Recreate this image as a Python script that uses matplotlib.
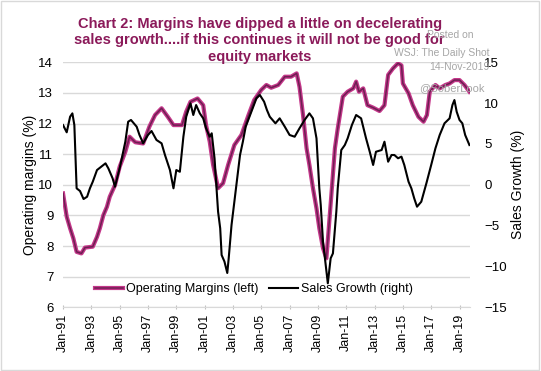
import matplotlib
matplotlib.use("Agg")
import matplotlib.pyplot as plt
from matplotlib.patches import Rectangle
from matplotlib.lines import Line2D

plt.rcParams["font.family"] = ["Liberation Sans", "DejaVu Sans"]

# --- datos (año decimal, valor) ---
margin_years = [1991.0, 1991.26, 1991.5, 1991.73, 1991.96, 1992.3, 1992.55, 1993.1, 1993.4,
                1993.6, 1993.85, 1994.1, 1994.3, 1994.67, 1995.0, 1995.4, 1995.7, 1996.1,
                1996.66, 1997.1, 1997.5, 1997.96, 1998.4, 1998.8, 1999.4, 1999.7, 2000.0,
                2000.5, 2000.9, 2001.1, 2001.36, 2001.6, 2001.95, 2002.3, 2002.66, 2003.1,
                2003.6, 2004.1, 2004.5, 2005.0, 2005.36, 2005.7, 2006.2, 2006.66, 2007.1,
                2007.5, 2007.7, 2007.95, 2008.2, 2008.4, 2008.65, 2008.9, 2009.1, 2009.36,
                2009.6, 2009.95, 2010.2, 2010.4, 2010.76, 2011.1, 2011.5, 2011.7, 2011.9,
                2012.2, 2012.5, 2012.9, 2013.35, 2013.7, 2013.96, 2014.3, 2014.66, 2014.9,
                2015.0, 2015.4, 2015.7, 2016.1, 2016.46, 2016.7, 2016.9, 2017.3, 2017.6,
                2018.0, 2018.3, 2018.64, 2019.0, 2019.35, 2019.7]
margins = [9.72, 8.96, 8.58, 8.25, 7.81, 7.76, 7.95, 7.98, 8.30,
           8.58, 9.01, 9.28, 9.61, 9.99, 10.59, 11.08, 11.57, 11.39,
           11.35, 11.90, 12.28, 12.50, 12.22, 11.95, 11.95, 12.39, 12.71,
           12.82, 12.60, 11.95, 11.41, 10.65, 9.89, 10.05, 10.65, 11.30,
           11.63, 12.28, 12.77, 13.10, 13.26, 13.17, 13.26, 13.53, 13.53,
           13.64, 13.20, 12.28, 11.19, 10.65, 9.89, 9.23, 8.58, 7.93,
           7.60, 9.67, 11.19, 11.84, 12.88, 13.04, 13.15, 13.37, 13.04,
           13.15, 12.60, 12.52, 12.41, 12.60, 13.59, 13.80, 13.97, 13.90,
           13.31, 12.99, 12.60, 12.22, 12.06, 12.28, 13.04, 13.26, 13.15,
           13.26, 13.31, 13.42, 13.42, 13.26, 13.04]

sales_years = [1991.0, 1991.26, 1991.5, 1991.66, 1991.8, 1991.96, 1992.2, 1992.45, 1992.7,
               1992.9, 1993.1, 1993.4, 1993.7, 1994.0, 1994.2, 1994.5, 1994.67, 1995.0,
               1995.4, 1995.6, 1995.8, 1996.2, 1996.4, 1996.66, 1997.0, 1997.25, 1997.6,
               1997.96, 1998.2, 1998.55, 1998.8, 1999.0, 1999.25, 1999.5, 1999.7, 2000.0,
               2000.2, 2000.4, 2000.66, 2000.9, 2001.1, 2001.36, 2001.5, 2001.7, 2001.95,
               2002.1, 2002.2, 2002.4, 2002.6, 2002.7, 2002.9, 2003.1, 2003.3, 2003.5,
               2003.7, 2003.9, 2004.3, 2004.66, 2004.9, 2005.2, 2005.4, 2005.6, 2006.0,
               2006.3, 2006.66, 2007.0, 2007.36, 2007.7, 2008.06, 2008.4, 2008.65, 2008.9,
               2009.1, 2009.2, 2009.36, 2009.7, 2009.9, 2010.06, 2010.3, 2010.4, 2010.65,
               2010.9, 2011.1, 2011.4, 2011.7, 2012.05, 2012.4, 2012.66, 2012.9, 2013.1,
               2013.5, 2013.7, 2013.96, 2014.2, 2014.4, 2014.66, 2014.9, 2015.1, 2015.4,
               2015.6, 2015.8, 2016.0, 2016.3, 2016.66, 2017.0, 2017.3, 2017.6, 2017.94,
               2018.3, 2018.5, 2018.64, 2018.8, 2019.0, 2019.2, 2019.4, 2019.7]
sales = [7.32, 6.43, 8.34, 8.75, 7.32, -0.43, -0.76, -1.74, -1.46,
         -0.43, 0.38, 1.81, 2.22, 2.63, 2.02, 0.80, -0.23, 2.02,
         5.28, 7.73, 7.94, 7.12, 6.10, 5.08, 6.10, 6.59, 5.49,
         5.08, 3.65, 1.81, -0.43, 1.81, 1.60, 5.89, 8.34, 9.98,
         8.55, 9.77, 8.75, 8.14, 6.92, 5.89, 6.31, 3.25, -3.29,
         -5.33, -8.60, -9.40, -10.80, -9.00, -4.92, -2.07, 0.80, 3.65,
         5.28, 7.12, 8.95, 10.60, 11.00, 10.18, 9.16, 8.34, 7.53,
         8.14, 7.12, 6.10, 5.89, 6.92, 7.94, 8.75, 8.14, 5.69,
         -0.43, -2.47, -6.96, -12.06, -9.00, -8.40, -3.30, -0.43, 4.26,
         4.87, 5.69, 7.32, 8.55, 8.14, 5.69, 4.05, 2.43, 4.05,
         4.26, 5.28, 2.83, 3.65, 3.65, 3.25, 3.45, 2.43, 0.38,
         -0.43, -1.65, -2.68, -2.07, 0.18, 2.43, 4.47, 6.10, 7.53,
         8.14, 9.77, 10.38, 8.95, 7.94, 7.53, 6.10, 4.87]

tick_years = list(range(1991, 2020, 2))
tick_labels = [f"Jan-{y % 100:02d}" for y in tick_years]

TITLE_COL = "#8b1a5a"
MAG = "#c4378a"
PUR = "#6e1f52"

fig = plt.figure(figsize=(5.41, 3.71), dpi=100)
ax = fig.add_axes([0.1165, 0.1717, 0.7525, 0.6603])

# márgenes: borde magenta + centro morado
ax.plot(margin_years, margins, color=MAG, lw=3.0)
ax.plot(margin_years, margins, color=PUR, lw=1.1)
ax.set_ylim(6, 14)
ax.set_xlim(1991, 2019.75)
ax.set_yticks(range(6, 15))
ax.grid(axis="y", color="#d9d9d9", lw=1)
ax.set_axisbelow(True)
ax.set_xticks(tick_years)
ax.set_xticklabels(tick_labels, rotation=90, fontsize=9)
ax.tick_params(axis="y", length=0, labelsize=9.5, pad=7)
ax.tick_params(axis="x", length=3, color="#bfbfbf", direction="inout", pad=3)
for s in ["top", "right", "left"]:
    ax.spines[s].set_visible(False)
ax.spines["bottom"].set_color("#d9d9d9")
ax.set_ylabel("Operating margins (%)", fontsize=10, labelpad=1)

ax2 = ax.twinx()
ax2.plot(sales_years, sales, color="black", lw=1.5)
ax2.set_ylim(-15, 15)
ax2.set_yticks(range(-15, 16, 5))
ax2.tick_params(axis="y", length=0, labelsize=9.5, pad=10)
for s in ax2.spines.values():
    s.set_visible(False)
ax2.set_ylabel("Sales Growth (%)", fontsize=10, labelpad=3)

# leyenda
h1 = (Line2D([], [], color=MAG, lw=3.0), Line2D([], [], color=PUR, lw=1.1))
h2 = Line2D([], [], color="black", lw=1.5)
ax.legend([h1, h2], ["Operating Margins (left)", "Sales Growth (right)"], ncol=2,
          loc="center", bbox_to_anchor=(0.468, 0.073), frameon=False, fontsize=9,
          handlelength=2.3, handletextpad=0.25, columnspacing=0.8)

fig.text(0.48, 0.955, "Chart 2: Margins have dipped a little on decelerating\n"
         "sales growth....if this continues it will not be good for\nequity markets",
         ha="center", va="top", fontsize=10.5, fontweight="bold", color=TITLE_COL,
         linespacing=1.22)

wm = "#a6a6a6"
fig.text(0.875, 0.905, "Posted on", ha="right", va="center", fontsize=7.5, color=wm)
fig.text(0.905, 0.858, "WSJ: The Daily Shot", ha="right", va="center", fontsize=7.5, color=wm)
fig.text(0.905, 0.82, "14-Nov-2019", ha="right", va="center", fontsize=7.5, color=wm)
fig.text(0.895, 0.763, "@SoberLook", ha="right", va="center", fontsize=8, color=wm)

fig.patches.append(Rectangle((0.002, 0.003), 0.995, 0.994, transform=fig.transFigure,
                             fill=False, edgecolor="#d9d9d9", lw=1))

fig.savefig("out.png", dpi=100)
